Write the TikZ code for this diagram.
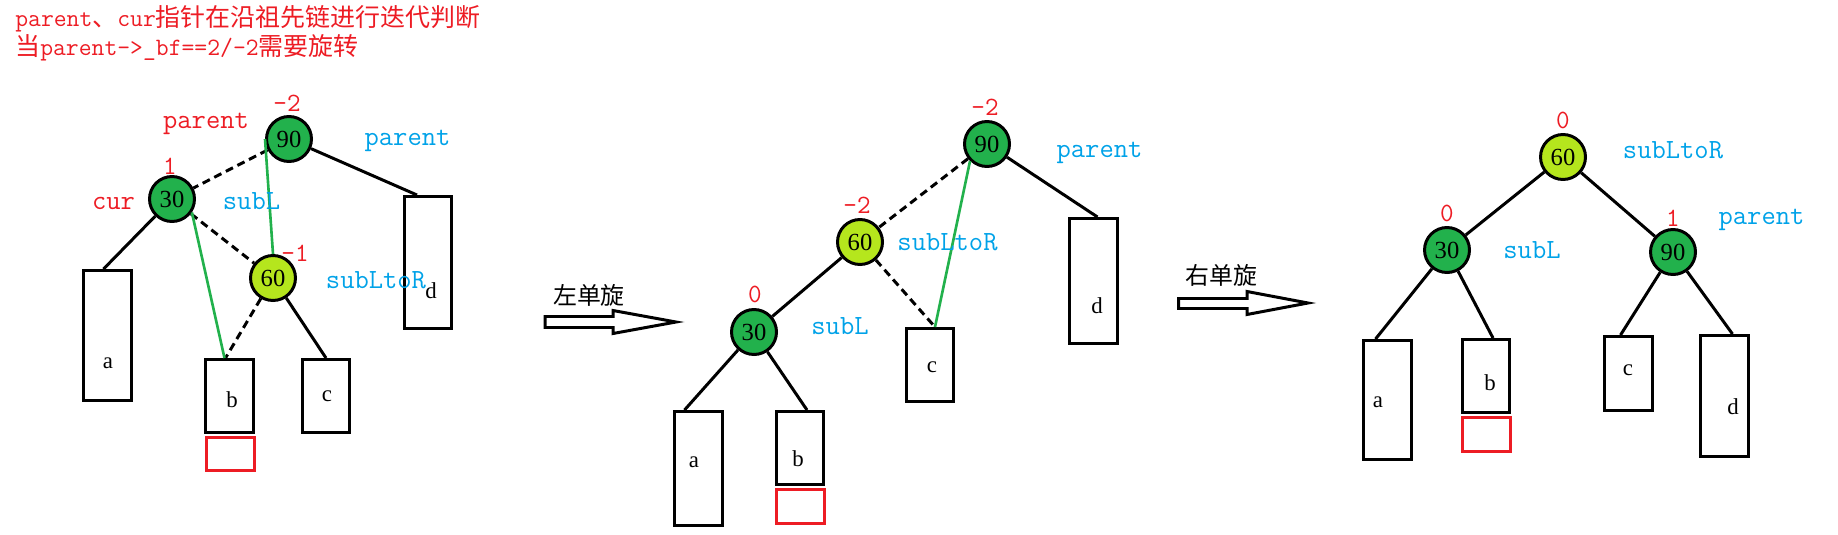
\documentclass[tikz,border=0pt]{standalone}
\usepackage{fontspec}
\setmainfont{Liberation Serif}
\newfontfamily\cjk{Noto Sans CJK SC}
\usepackage{tikz}
\usetikzlibrary{calc}
\definecolor{node-green}{RGB}{34,177,76}
\definecolor{node-lime}{RGB}{181,230,29}
\definecolor{mark-red}{RGB}{237,28,36}
\definecolor{name-blue}{RGB}{0,162,232}
\tikzstyle{canvas}=[x=0.02cm, y=-0.02cm]
\tikzstyle{avl}=[circle, draw, line width=1.7pt, minimum size=0.9cm, inner sep=0pt, font=\fontsize{14pt}{14pt}\selectfont]
\tikzstyle{greennode}=[avl, fill=node-green]
\tikzstyle{limenode}=[avl, fill=node-lime]
\tikzstyle{subtree}=[draw, line width=1.7pt, minimum width=0.95cm, inner sep=0pt]
\tikzstyle{hole}=[draw=mark-red, line width=1.7pt, minimum width=0.96cm, minimum height=0.67cm, inner sep=0pt]
\tikzstyle{leaf}=[inner sep=0pt, font=\fontsize{13pt}{13pt}\selectfont]
\tikzstyle{bf}=[inner sep=0pt, text=mark-red, font=\ttfamily\fontsize{15pt}{15pt}\selectfont]
\tikzstyle{redname}=[inner sep=0pt, text=mark-red, font=\ttfamily\fontsize{15.8pt}{16pt}\selectfont]
\tikzstyle{bluename}=[inner sep=0pt, text=name-blue, font=\ttfamily\fontsize{15.8pt}{16pt}\selectfont]
\tikzstyle{headline}=[anchor=base west, inner sep=0pt, text=mark-red, font=\ttfamily\fontsize{14.2pt}{15pt}\selectfont]
\tikzstyle{rotname}=[inner sep=0pt, font=\cjk\fontsize{13.6pt}{14pt}\selectfont]
\tikzstyle{edge}=[line width=1.7pt]
\tikzstyle{link}=[line width=1.7pt, dash pattern=on 0.16cm off 0.1cm]
\tikzstyle{moved}=[line width=1.5pt, draw=node-green]
\tikzstyle{rot}=[line width=1.7pt, line join=miter]

\begin{document}
\begin{tikzpicture}[canvas]
	\useasboundingbox (0,0) rectangle (1838,534);
	\node[headline] (title1) at (15,27) {parent{\cjk 、}cur{\cjk 指针在沿祖先链进行迭代判断}};
	\node[headline] (title2) at (15,55) {{\cjk 当}parent->\_bf==2/–2{\cjk 需要旋转}};

	\node[greennode] (n90a) at (289,139) {90};
	\node[greennode] (n30a) at (172,199) {30};
	\node[limenode] (n60a) at (273,278) {60};
	\node[subtree, minimum height=2.6cm] (a1) at (107.5,335.5) {};
	\node[subtree, minimum height=1.46cm] (b1) at (229.5,396) {};
	\node[subtree, minimum height=1.46cm] (c1) at (326,396) {};
	\node[subtree, minimum height=2.64cm] (d1) at (428,262.5) {};
	\node[hole] (h1) at (230.5,454) {};
	\node[leaf] (la1) at (108,363) {a};
	\node[leaf] (lb1) at (232,400) {b};
	\node[leaf] (lc1) at (327,396) {c};
	\node[leaf] (ld1) at (431,291) {d};
	\draw[edge] (n90a) -- ($(d1.north)+(-11,0)$);
	\draw[edge] (n30a) -- ($(a1.north)+(-4,0)$);
	\draw[edge] (n60a) -- (c1.north);
	\draw[link] (n90a) -- (n30a);
	\draw[link] (n30a) -- (n60a);
	\draw[link] (n60a) -- ($(b1.north)+(-4,0)$);
	\draw[moved] (n90a.west) -- (n60a.north);
	\draw[moved] (n30a.-34) -- ($(b1.north)+(-5,0)$);
	\node[bf] (bf90a) at (287,103) {–2};
	\node[bf] (bf30a) at (170,166) {1};
	\node[bf] (bf60a) at (295,253) {–1};
	\node[redname] (parenta) at (206,124) {parent};
	\node[redname] (cura) at (113.5,203.5) {cur};
	\node[bluename] (pa) at (407.5,141) {parent};
	\node[bluename] (sla) at (251.5,201.5) {subL};
	\node[bluename] (slra) at (376,280) {subLtoR};

	\node[rotname] (left) at (589,295) {左单旋};
	\draw[rot] (545,316.5) -- (613,316.5) -- (613,310.5) -- (676,322) -- (613,333.5) -- (613,327.5) -- (545,327.5) -- cycle;

	\node[greennode] (n90b) at (987,144) {90};
	\node[limenode] (n60b) at (860,242) {60};
	\node[greennode] (n30b) at (754,332) {30};
	\node[subtree, minimum height=2.28cm] (a2) at (698.5,468.5) {};
	\node[subtree, minimum height=1.46cm] (b2) at (800,448) {};
	\node[subtree, minimum height=1.46cm] (c2) at (930,365) {};
	\node[subtree, minimum height=2.5cm] (d2) at (1093.5,281) {};
	\node[hole] (h2) at (800.5,506.5) {};
	\node[leaf] (la2) at (694,462) {a};
	\node[leaf] (lb2) at (798,459) {b};
	\node[leaf] (lc2) at (932,367) {c};
	\node[leaf] (ld2) at (1097,306) {d};
	\draw[edge] (n90b) -- ($(d2.north)+(4,0)$);
	\draw[edge] (n60b) -- (n30b);
	\draw[edge] (n30b) -- ($(a2.north)+(-14,0)$);
	\draw[edge] (n30b) -- ($(b2.north)+(7,0)$);
	\draw[link] (n90b) -- (n60b);
	\draw[link] (n60b) -- ($(c2.north)+(5,0)$);
	\draw[moved] (n90b.225) -- ($(c2.north)+(5,0)$);
	\node[bf] (bf90b) at (985,107) {–2};
	\node[bf] (bf60b) at (857,205) {–2};
	\node[bf] (bf30b) at (755,294) {0};
	\node[bluename] (pb) at (1099.5,153) {parent};
	\node[bluename] (slrb) at (947.5,242) {subLtoR};
	\node[bluename] (slb) at (840,326) {subL};

	\node[rotname] (right) at (1221.5,275) {右单旋};
	\draw[rot] (1178.5,298.5) -- (1247,298.5) -- (1247,291.5) -- (1308,303) -- (1247,314.5) -- (1247,308.5) -- (1178.5,308.5) -- cycle;

	\node[limenode] (n60c) at (1563,157) {60};
	\node[greennode] (n30c) at (1447,250) {30};
	\node[greennode] (n90c) at (1673,252) {90};
	\node[subtree, minimum height=2.38cm] (a3) at (1387.5,400) {};
	\node[subtree, minimum height=1.46cm] (b3) at (1486,376) {};
	\node[subtree, minimum height=1.48cm] (c3) at (1628.5,373.5) {};
	\node[subtree, minimum height=2.42cm] (d3) at (1724.5,396) {};
	\node[hole] (h3) at (1486.5,434.5) {};
	\node[leaf] (la3) at (1378,402) {a};
	\node[leaf] (lb3) at (1490,383) {b};
	\node[leaf] (lc3) at (1628,370) {c};
	\node[leaf] (ld3) at (1733,407) {d};
	\draw[edge] (n60c) -- (n30c);
	\draw[edge] (n60c) -- (n90c);
	\draw[edge] (n30c) -- ($(a3.north)+(-12,0)$);
	\draw[edge] (n30c) -- ($(b3.north)+(7,0)$);
	\draw[edge] (n90c) -- ($(c3.north)+(-8,0)$);
	\draw[edge] (n90c) -- ($(d3.north)+(8,0)$);
	\node[bf] (bf60c) at (1563,120) {0};
	\node[bf] (bf30c) at (1447,213) {0};
	\node[bf] (bf90c) at (1673,218) {1};
	\node[bluename] (slrc) at (1673,150) {subLtoR};
	\node[bluename] (slc) at (1532,250) {subL};
	\node[bluename] (pc) at (1761.5,220) {parent};
\end{tikzpicture}
\end{document}
